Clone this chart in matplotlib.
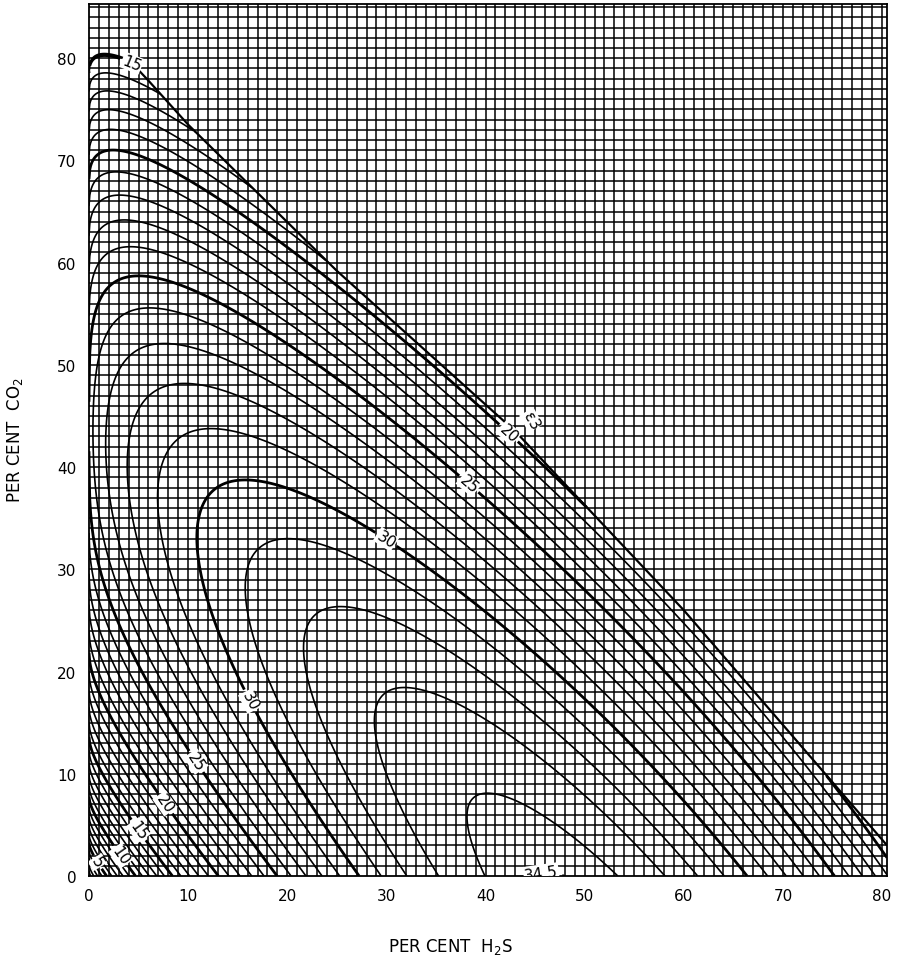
import numpy as np
import matplotlib
matplotlib.use("Agg")
import matplotlib.pyplot as plt

# Wichert-Aziz pseudo-critical temperature correction (deg F)
coef_A = 120.0
exp_A1, exp_A2 = 0.9, 1.6
coef_B = 15.0
exp_B1, exp_B2 = 0.5, 4.0

levels = [float(v) for v in range(1, 35)] + [34.5]
bold_levels = [5.0, 10.0, 15.0, 20.0, 25.0, 30.0]
peak_level = [34.5]
min_outer_level = 14.9

# outer limit of the charted region (total acid gas %, vs H2S %)
limit_h2s = [0, 6, 10, 25, 43, 60, 80.5]
limit_total = [84.0, 83.8, 83.5, 84.2, 86.5, 86.0, 83.5]

x_ticks = [0, 10, 20, 30, 40, 50, 60, 70, 80]
y_ticks = [0, 10, 20, 30, 40, 50, 60, 70, 80]

h2s = np.linspace(0, 80.5, 1000)
co2 = np.linspace(0, 85.3, 1060)
H, C = np.meshgrid(h2s, co2)
A = (H + C) / 100.0
B = H / 100.0
eps = coef_A * (A ** exp_A1 - A ** exp_A2) + coef_B * (B ** exp_B1 - B ** exp_B2)
eps = np.where(A <= 1.0, eps, np.nan)

# boundary field: <=0 inside the charted region
lim = np.interp(H, limit_h2s, limit_total)
G = (H + C) - lim
G2 = np.where(A > 0.6, (min_outer_level - eps) * 2.0, -50.0)
F = np.maximum(G, G2)
eps_m = np.where(F <= 0, eps, np.nan)

fig = plt.figure(figsize=(9, 9.7), dpi=100)
ax = fig.add_axes([89 / 900, 93 / 970, (887 - 89) / 900, (877 - 5) / 970])
ax.set_xlim(0, 80.5)
ax.set_ylim(0, 85.3)

for gx in np.arange(1, 81, 1):
    ax.axvline(gx, color="black", lw=1.1, zorder=1)
for gy in np.arange(1, 86, 1):
    ax.axhline(gy, color="black", lw=1.1, zorder=1)

thin = [l for l in levels if l not in bold_levels and l not in peak_level]
cs_thin = ax.contour(H, C, eps_m, levels=thin, colors="black", linewidths=1.2, zorder=2)
cs_peak = ax.contour(H, C, eps_m, levels=peak_level, colors="black", linewidths=1.2, zorder=2)
cs_bold = ax.contour(H, C, eps_m, levels=bold_levels, colors="black", linewidths=2.0, zorder=2)
ax.contour(H, C, np.where(A <= 1.0, F, np.nan), levels=[0.0], colors="black",
           linewidths=1.6, zorder=2)

lab_bold = ax.clabel(cs_bold, fmt="%g", fontsize=11, inline=True, inline_spacing=3,
                     manual=[(0.6, 1.2), (2.5, 1.5), (5, 4.5), (7.5, 7), (10.5, 11), (16, 17),
                             (30, 33), (38, 38), (42.2, 43.2), (4.6, 79.2)])
lab_peak = ax.clabel(cs_peak, fmt="%g", fontsize=11, inline=True, manual=[(44.3, 2.6)])
for t in list(lab_bold) + list(lab_peak):
    t.set_bbox(dict(facecolor="white", edgecolor="none", pad=0.5))
    t.set_zorder(3)

ax.text(44.6, 44.6, "ε3", fontsize=11, rotation=-60, ha="center", va="center", zorder=3,
        bbox=dict(facecolor="white", edgecolor="none", pad=0.5))

ax.set_xticks(x_ticks)
ax.set_yticks(y_ticks)
ax.tick_params(length=0, labelsize=11, pad=9)
for s in ax.spines.values():
    s.set_linewidth(1.3)

fig.text(0.5, 1 - 947 / 970, "PER CENT  H$_2$S", ha="center", va="center", fontsize=12)
fig.text(15 / 900, 1 - 440 / 970, "PER CENT  CO$_2$", ha="center", va="center",
         rotation=90, fontsize=12)

fig.savefig("out.png", dpi=100, facecolor="white")
